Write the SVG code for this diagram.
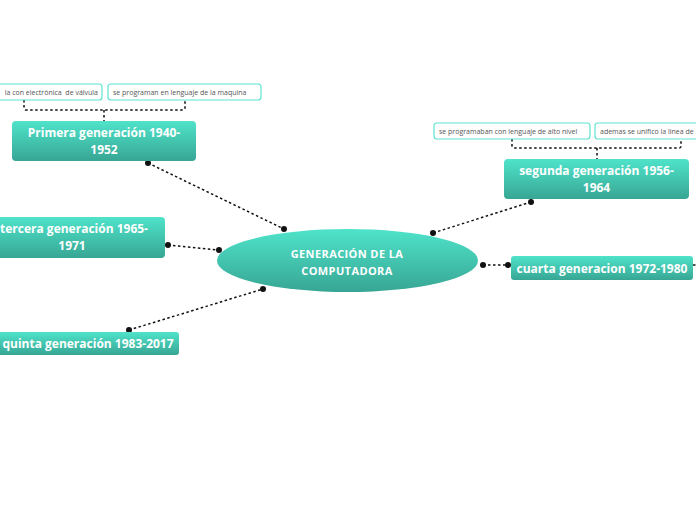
<svg xmlns="http://www.w3.org/2000/svg" width="696" height="520" viewBox="0 0 696 520">
<defs>
<linearGradient id="g" x1="0" y1="0" x2="0" y2="1">
<stop offset="0" stop-color="#4fe3ca"/>
<stop offset="1" stop-color="#37a694"/>
</linearGradient>
<style>
.node{fill:url(#g);}
.t{font-family:"Open Sans","Noto Sans",sans-serif;font-weight:bold;fill:#ffffff;font-size:12px;text-anchor:middle;}
.ct{font-family:"Open Sans","Noto Sans",sans-serif;font-weight:bold;fill:#ffffff;font-size:11px;letter-spacing:0.4px;text-anchor:middle;}
.sub{fill:#ffffff;stroke:#5ee3d1;stroke-width:1.2;}
.st{font-family:"Open Sans","Noto Sans",sans-serif;fill:#555555;font-size:7px;white-space:pre;}
.c{stroke:#111111;stroke-width:1.5;stroke-dasharray:2.5 2.5;fill:none;}
.d{fill:#111111;}
</style>
</defs>
<rect width="696" height="520" fill="#ffffff"/>
<g id="connectors">
<path class="c" d="M148,163 L284,229"/>
<path class="c" d="M531,202 L433,233"/>
<path class="c" d="M168,245 L219,250"/>
<path class="c" d="M483,265 L508,265"/>
<path class="c" d="M129,330 L263,289"/>
<path class="c" d="M693,265 L696,265"/>
<path class="c" d="M24,100 L24,108 Q24,110 26,110 L183,110 Q185,110 185,108 L185,100 M104,110 L104,121"/>
<path class="c" d="M512,139 L512,146 Q512,148 514,148 L679,148 Q681,148 681,146 L681,139 M597,148 L597,159"/>
<circle class="d" cx="148" cy="163" r="3"/>
<circle class="d" cx="284" cy="229" r="3"/>
<circle class="d" cx="531" cy="202" r="3"/>
<circle class="d" cx="433" cy="233" r="3"/>
<circle class="d" cx="168" cy="245" r="3"/>
<circle class="d" cx="219" cy="250" r="3"/>
<circle class="d" cx="483" cy="265" r="3"/>
<circle class="d" cx="508" cy="265" r="3"/>
<circle class="d" cx="129" cy="330" r="3"/>
<circle class="d" cx="263" cy="289" r="3"/>
</g>
<g id="center">
<ellipse class="node" cx="347.5" cy="260.5" rx="130.5" ry="31.5"/>
<text class="ct" x="347" y="258">GENERACIÓN DE LA</text>
<text class="ct" x="347" y="275">COMPUTADORA</text>
</g>
<g id="primera">
<rect class="node" x="12" y="121" width="184" height="40" rx="4"/>
<text class="t" x="104" y="137">Primera generación 1940-</text>
<text class="t" x="104" y="154">1952</text>
</g>
<g id="sub1">
<rect class="sub" x="-60" y="84" width="162" height="16" rx="3"/>
<text class="st" x="98" y="94.5" text-anchor="end" xml:space="preserve">la con electrónica  de válvula</text>
</g>
<g id="sub2">
<rect class="sub" x="108" y="84" width="153" height="16" rx="3"/>
<text class="st" x="113" y="94.5">se programan en lenguaje de la maquina</text>
</g>
<g id="segunda">
<rect class="node" x="504" y="159" width="185" height="40" rx="4"/>
<text class="t" x="596.5" y="175">segunda generación 1956-</text>
<text class="t" x="596.5" y="192">1964</text>
</g>
<g id="sub3">
<rect class="sub" x="434" y="123" width="156" height="16" rx="3"/>
<text class="st" x="439" y="133.5">se programaban con lenguaje de alto nivel</text>
</g>
<g id="sub4">
<rect class="sub" x="595" y="123" width="140" height="16" rx="3"/>
<text class="st" x="600" y="133.5">ademas se unifico la linea de</text>
</g>
<g id="tercera">
<rect class="node" x="-21" y="217" width="186" height="41" rx="4"/>
<text class="t" x="74" y="233">tercera generación 1965-</text>
<text class="t" x="72" y="250">1971</text>
</g>
<g id="cuarta">
<rect class="node" x="511" y="256" width="182" height="24" rx="3"/>
<text class="t" x="602" y="272.5">cuarta generacion 1972-1980</text>
</g>
<g id="quinta">
<rect class="node" x="-10" y="332" width="189" height="23" rx="3"/>
<text class="t" x="88" y="348">quinta generación 1983-2017</text>
</g>
</svg>
